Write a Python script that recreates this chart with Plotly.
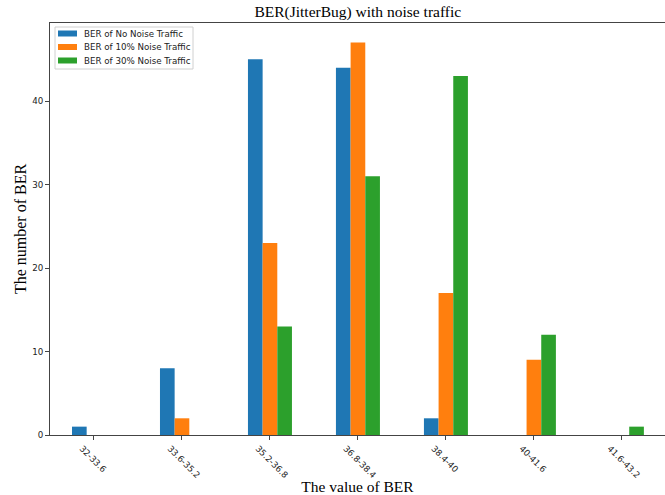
import plotly.graph_objects as go

# BER bins and counts for each noise-traffic level
categories = ["32-33.6", "33.6-35.2", "35.2-36.8", "36.8-38.4", "38.4-40", "40-41.6", "41.6-43.2"]
no_noise = [1, 8, 45, 44, 2, 0, 0]
noise_10 = [0, 2, 23, 47, 17, 9, 0]
noise_30 = [0, 0, 13, 31, 43, 12, 1]

series_names = ["BER of No Noise Traffic", "BER of 10% Noise Traffic", "BER of 30% Noise Traffic"]
series_colors = ["#1f77b4", "#ff7f0e", "#2ca02c"]

x_pos = list(range(len(categories)))

W, H = 665, 495
M_L, M_R, M_T, M_B = 50, 0, 23, 60
PLOT_W = W - M_L - M_R
PLOT_H = H - M_T - M_B

fig = go.Figure()
for name, vals, col in zip(series_names, [no_noise, noise_10, noise_30], series_colors):
    fig.add_trace(go.Bar(x=x_pos, y=vals, name=name, showlegend=False,
                         marker=dict(color=col, line=dict(width=0))))

serif = "Liberation Serif, Times New Roman, serif"
sans = "DejaVu Sans, sans-serif"


def px_x(p):
    # pixel column -> paper fraction of the plotting area
    return (p - M_L) / PLOT_W


def px_y(p):
    # pixel row -> paper fraction of the plotting area
    return (H - M_B - p) / PLOT_H


# compact legend box in the upper-left corner with wide colour patches
shapes = [dict(type="rect", xref="paper", yref="paper",
               x0=px_x(55), x1=px_x(193), y0=px_y(69), y1=px_y(27),
               fillcolor="rgba(255,255,255,0.8)", line=dict(color="#d0d0d0", width=1), layer="above")]
annotations = []
row_centers = [33.5, 47, 60.5]
for name, col, yc in zip(series_names, series_colors, row_centers):
    shapes.append(dict(type="rect", xref="paper", yref="paper",
                       x0=px_x(58), x1=px_x(77), y0=px_y(yc + 3), y1=px_y(yc - 3),
                       fillcolor=col, line=dict(width=0), layer="above"))
    annotations.append(dict(text=name, xref="paper", yref="paper", x=px_x(82), y=px_y(yc),
                            xanchor="left", yanchor="middle", showarrow=False,
                            font=dict(family=sans, size=8.7, color="#222")))

fig.update_layout(
    width=W, height=H,
    margin=dict(l=M_L, r=M_R, t=M_T, b=M_B),
    paper_bgcolor="white", plot_bgcolor="white",
    barmode="group", bargap=0.5, bargroupgap=0,
    title=dict(text="BER(JitterBug) with noise traffic", x=0.538, xanchor="center",
               y=0.977, yanchor="middle", font=dict(family=serif, size=15.5, color="black")),
    shapes=shapes, annotations=annotations,
)

fig.update_xaxes(
    range=[-0.5, 6.49], tickmode="array", tickvals=x_pos, ticktext=categories,
    tickangle=45, ticks="outside", ticklen=4, tickcolor="#444",
    ticklabelshift=-12,
    showline=True, linecolor="#444", linewidth=1, mirror=True,
    showgrid=False, zeroline=False, automargin=False,
    tickfont=dict(family=sans, size=8.7, color="#222"),
    title=dict(text="The value of BER", font=dict(family=serif, size=15.5, color="black"), standoff=7),
)
fig.update_yaxes(
    range=[0, 49.35], tickvals=[0, 10, 20, 30, 40],
    ticks="outside", ticklen=4, tickcolor="#444",
    showline=True, linecolor="#444", linewidth=1, mirror=False,
    showgrid=False, zeroline=False, automargin=False,
    tickfont=dict(family=sans, size=8.7, color="#222"),
    title=dict(text="The number of BER", font=dict(family=serif, size=16, color="black"), standoff=1),
)

fig.write_html("out.html")
